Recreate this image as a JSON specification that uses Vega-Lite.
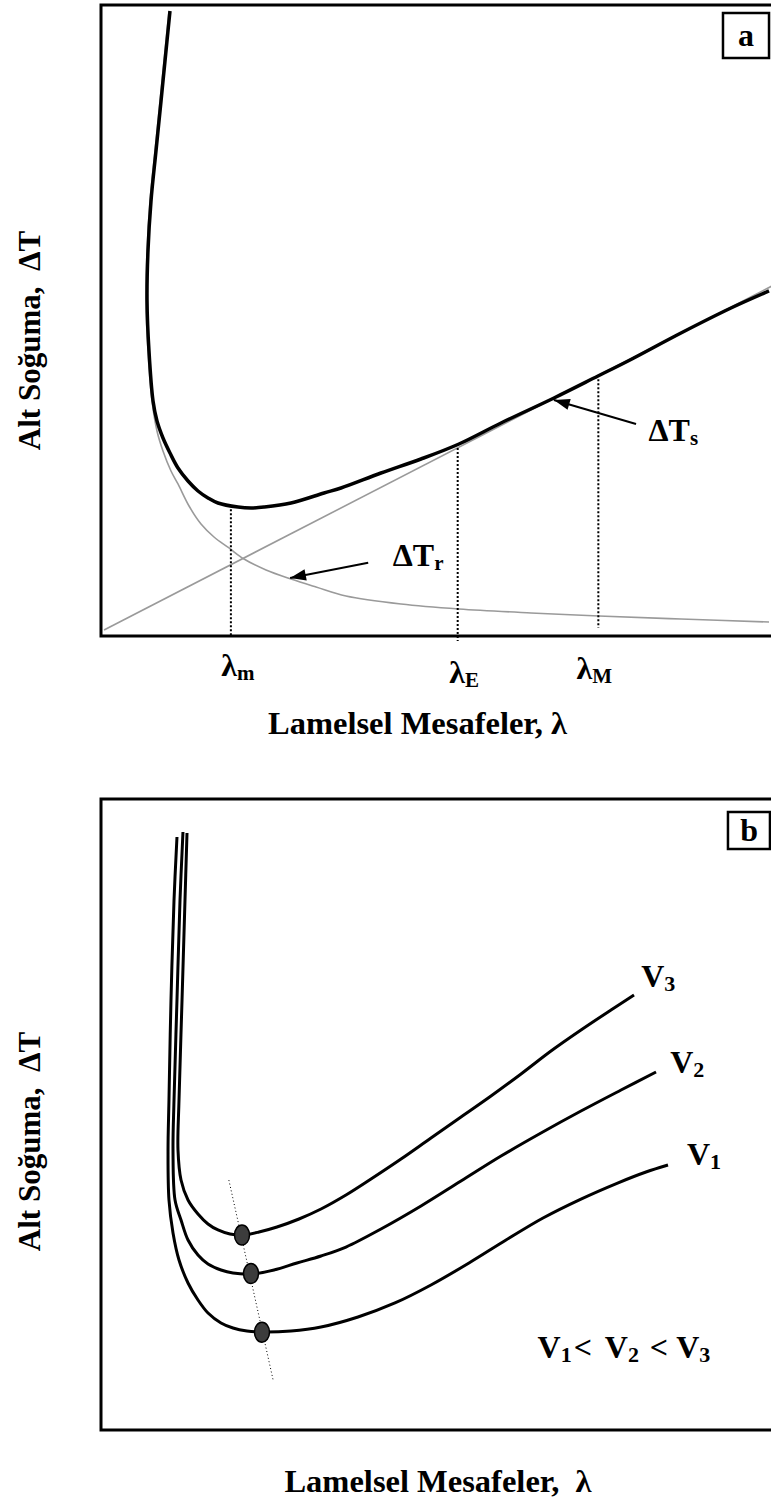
{
  "$schema": "https://vega.github.io/schema/vega-lite/v6.json",
  "background": "white",
  "padding": {"left": 12, "top": 2, "right": 0, "bottom": 5},
  "bounds": "flush",
  "spacing": 163,
  "config": {
    "view": {"stroke": "black", "strokeWidth": 3},
    "text": {"font": "Liberation Serif", "fontWeight": "bold", "color": "black"}
  },
  "datasets": {
    "curvesA": [
      {"curve": "tot", "x": 10.25, "y": 99.05}, {"curve": "tot", "x": 9.51, "y": 91.13}, {"curve": "tot", "x": 8.92, "y": 84.79},
      {"curve": "tot", "x": 8.17, "y": 76.86}, {"curve": "tot", "x": 7.43, "y": 68.94}, {"curve": "tot", "x": 6.98, "y": 61.01},
      {"curve": "tot", "x": 6.84, "y": 53.09}, {"curve": "tot", "x": 7.13, "y": 45.17}, {"curve": "tot", "x": 7.73, "y": 37.24},
      {"curve": "tot", "x": 8.32, "y": 34.07}, {"curve": "tot", "x": 9.21, "y": 31.38}, {"curve": "tot", "x": 10.25, "y": 29.0},
      {"curve": "tot", "x": 11.44, "y": 26.62}, {"curve": "tot", "x": 12.93, "y": 24.56}, {"curve": "tot", "x": 14.41, "y": 22.98},
      {"curve": "tot", "x": 15.9, "y": 21.87}, {"curve": "tot", "x": 17.38, "y": 21.08}, {"curve": "tot", "x": 20.36, "y": 20.44},
      {"curve": "tot", "x": 22.29, "y": 20.29}, {"curve": "tot", "x": 24.22, "y": 20.44}, {"curve": "tot", "x": 28.23, "y": 21.08},
      {"curve": "tot", "x": 33.14, "y": 22.66}, {"curve": "tot", "x": 35.66, "y": 23.45}, {"curve": "tot", "x": 41.6, "y": 25.83},
      {"curve": "tot", "x": 47.55, "y": 28.05}, {"curve": "tot", "x": 53.19, "y": 30.43}, {"curve": "tot", "x": 59.44, "y": 33.76},
      {"curve": "tot", "x": 67.31, "y": 37.72}, {"curve": "tot", "x": 73.85, "y": 41.2}, {"curve": "tot", "x": 78.31, "y": 43.58},
      {"curve": "tot", "x": 86.18, "y": 48.02}, {"curve": "tot", "x": 93.61, "y": 51.98}, {"curve": "tot", "x": 99.26, "y": 54.68},
      {"curve": "r", "x": 10.1, "y": 99.05}, {"curve": "r", "x": 9.36, "y": 91.13}, {"curve": "r", "x": 8.77, "y": 84.79},
      {"curve": "r", "x": 8.02, "y": 76.86}, {"curve": "r", "x": 7.28, "y": 68.94}, {"curve": "r", "x": 6.84, "y": 61.01},
      {"curve": "r", "x": 6.69, "y": 53.09}, {"curve": "r", "x": 6.98, "y": 45.17}, {"curve": "r", "x": 7.58, "y": 37.24},
      {"curve": "r", "x": 8.32, "y": 32.49}, {"curve": "r", "x": 9.21, "y": 29.32}, {"curve": "r", "x": 10.4, "y": 26.15},
      {"curve": "r", "x": 11.44, "y": 24.09}, {"curve": "r", "x": 13.08, "y": 20.6}, {"curve": "r", "x": 14.86, "y": 17.75},
      {"curve": "r", "x": 16.79, "y": 15.69}, {"curve": "r", "x": 19.02, "y": 13.95}, {"curve": "r", "x": 21.25, "y": 12.2},
      {"curve": "r", "x": 24.52, "y": 10.46}, {"curve": "r", "x": 28.23, "y": 9.03}, {"curve": "r", "x": 31.95, "y": 7.77},
      {"curve": "r", "x": 36.4, "y": 6.34}, {"curve": "r", "x": 44.58, "y": 5.07}, {"curve": "r", "x": 53.19, "y": 4.28},
      {"curve": "r", "x": 63.89, "y": 3.65}, {"curve": "r", "x": 73.98, "y": 3.17}, {"curve": "r", "x": 86.18, "y": 2.69},
      {"curve": "r", "x": 99.26, "y": 2.22},
      {"curve": "s", "x": 0.45, "y": 0.95}, {"curve": "s", "x": 100, "y": 55.63}
    ],
    "marksA": [
      {"name": "m", "x": 19.3, "y": 20.1, "y2": 0},
      {"name": "E", "x": 53.0, "y": 29.8, "y2": -0.8},
      {"name": "M", "x": 73.9, "y": 40.7, "y2": 1.3}
    ],
    "arrowsA": [
      {"name": "s", "x": 79.5, "y": 33.6, "x2": 67.3, "y2": 37.4},
      {"name": "r", "x": 39.7, "y": 11.6, "x2": 28.1, "y2": 9.2}
    ],
    "labelsA": [
      {"main": "ΔT", "sub": "s", "x": 87.5, "y": 30.9},
      {"main": "ΔT", "sub": "r", "x": 49.5, "y": 11.1},
      {"main": "λ", "sub": "m", "x": 20.2, "y": -6.3},
      {"main": "λ", "sub": "E", "x": 54.1, "y": -7.4},
      {"main": "λ", "sub": "M", "x": 73.0, "y": -6.8}
    ],
    "boxA": [{"t": "a", "x": 92.42, "x2": 99.26, "y": 98.73, "y2": 91.6, "cx": 95.84, "cy": 95.1}],
    "curvesB": [
      {"curve": "V1", "x": 11.29, "y": 93.98}, {"curve": "V1", "x": 10.85, "y": 84.0}, {"curve": "V1", "x": 10.4, "y": 68.15},
      {"curve": "V1", "x": 10.1, "y": 52.3}, {"curve": "V1", "x": 9.96, "y": 44.37}, {"curve": "V1", "x": 10.1, "y": 36.45},
      {"curve": "V1", "x": 10.7, "y": 31.22}, {"curve": "V1", "x": 11.59, "y": 26.94}, {"curve": "V1", "x": 12.93, "y": 23.3},
      {"curve": "V1", "x": 14.41, "y": 20.6}, {"curve": "V1", "x": 15.9, "y": 18.54}, {"curve": "V1", "x": 17.83, "y": 16.96},
      {"curve": "V1", "x": 19.61, "y": 16.16}, {"curve": "V1", "x": 21.69, "y": 15.69}, {"curve": "V1", "x": 23.92, "y": 15.53},
      {"curve": "V1", "x": 28.23, "y": 15.69}, {"curve": "V1", "x": 32.69, "y": 16.32}, {"curve": "V1", "x": 38.19, "y": 17.91},
      {"curve": "V1", "x": 43.68, "y": 20.13}, {"curve": "V1", "x": 49.03, "y": 22.98}, {"curve": "V1", "x": 54.68, "y": 26.47},
      {"curve": "V1", "x": 60.18, "y": 30.11}, {"curve": "V1", "x": 65.68, "y": 33.6}, {"curve": "V1", "x": 71.32, "y": 36.6},
      {"curve": "V1", "x": 76.67, "y": 39.1}, {"curve": "V1", "x": 80.98, "y": 40.89}, {"curve": "V1", "x": 84.25, "y": 42.0},
      {"curve": "V2", "x": 12.18, "y": 94.77}, {"curve": "V2", "x": 11.74, "y": 83.99}, {"curve": "V2", "x": 11.29, "y": 68.15},
      {"curve": "V2", "x": 10.85, "y": 52.3}, {"curve": "V2", "x": 10.7, "y": 44.37}, {"curve": "V2", "x": 11.0, "y": 36.45},
      {"curve": "V2", "x": 11.89, "y": 33.28}, {"curve": "V2", "x": 12.93, "y": 30.11}, {"curve": "V2", "x": 14.41, "y": 27.73},
      {"curve": "V2", "x": 15.9, "y": 26.31}, {"curve": "V2", "x": 17.83, "y": 25.36}, {"curve": "V2", "x": 19.61, "y": 24.88},
      {"curve": "V2", "x": 22.29, "y": 24.72}, {"curve": "V2", "x": 25.71, "y": 25.36}, {"curve": "V2", "x": 29.12, "y": 26.47},
      {"curve": "V2", "x": 32.69, "y": 27.58}, {"curve": "V2", "x": 36.4, "y": 29.0}, {"curve": "V2", "x": 41.6, "y": 31.85},
      {"curve": "V2", "x": 47.55, "y": 35.5}, {"curve": "V2", "x": 53.49, "y": 39.46}, {"curve": "V2", "x": 59.44, "y": 43.42},
      {"curve": "V2", "x": 65.38, "y": 47.07}, {"curve": "V2", "x": 71.32, "y": 50.55}, {"curve": "V2", "x": 77.27, "y": 53.88},
      {"curve": "V2", "x": 82.47, "y": 56.74},
      {"curve": "V3", "x": 12.78, "y": 94.61}, {"curve": "V3", "x": 12.48, "y": 83.99}, {"curve": "V3", "x": 12.04, "y": 68.15},
      {"curve": "V3", "x": 11.59, "y": 52.3}, {"curve": "V3", "x": 11.44, "y": 44.37}, {"curve": "V3", "x": 11.89, "y": 39.62},
      {"curve": "V3", "x": 12.93, "y": 36.45}, {"curve": "V3", "x": 14.41, "y": 34.23}, {"curve": "V3", "x": 15.9, "y": 32.65},
      {"curve": "V3", "x": 17.38, "y": 31.7}, {"curve": "V3", "x": 19.17, "y": 31.06}, {"curve": "V3", "x": 20.95, "y": 30.9},
      {"curve": "V3", "x": 23.48, "y": 31.38}, {"curve": "V3", "x": 26.15, "y": 32.17}, {"curve": "V3", "x": 29.42, "y": 33.44},
      {"curve": "V3", "x": 32.69, "y": 35.02}, {"curve": "V3", "x": 36.4, "y": 37.24}, {"curve": "V3", "x": 40.12, "y": 39.78},
      {"curve": "V3", "x": 44.58, "y": 42.95}, {"curve": "V3", "x": 49.03, "y": 46.28}, {"curve": "V3", "x": 53.49, "y": 49.6},
      {"curve": "V3", "x": 57.95, "y": 52.93}, {"curve": "V3", "x": 62.41, "y": 56.42}, {"curve": "V3", "x": 66.86, "y": 60.06},
      {"curve": "V3", "x": 71.32, "y": 63.39}, {"curve": "V3", "x": 75.78, "y": 66.56}, {"curve": "V3", "x": 79.2, "y": 68.94}
    ],
    "guideB": [{"x": 19.0, "y": 39.6}, {"x": 25.6, "y": 7.8}],
    "minsB": [
      {"curve": "V3", "x": 20.95, "y": 30.9},
      {"curve": "V2", "x": 22.29, "y": 24.8},
      {"curve": "V1", "x": 23.92, "y": 15.5}
    ],
    "labelsB": [
      {"main": "V", "sub": "3", "x": 83.7, "y": 70.2},
      {"main": "V", "sub": "2", "x": 88.0, "y": 56.6},
      {"main": "V", "sub": "1", "x": 90.5, "y": 42.0},
      {"main": "V", "sub": "1", "x": 68.3, "y": 11.4},
      {"main": "<", "sub": "", "x": 72.96, "y": 11.4},
      {"main": "V", "sub": "2", "x": 78.3, "y": 11.4},
      {"main": "<", "sub": "", "x": 84.25, "y": 11.4},
      {"main": "V", "sub": "3", "x": 88.9, "y": 11.4}
    ],
    "boxB": [{"t": "b", "x": 93.16, "x2": 99.4, "y": 97.94, "y2": 92.08, "cx": 96.3, "cy": 95.0}]
  },
  "vconcat": [
    {
      "width": 673,
      "height": 631,
      "encoding": {
        "x": {"field": "x", "type": "quantitative", "scale": {"domain": [0, 100], "nice": false, "zero": false},
          "axis": {"title": "Lamelsel Mesafeler, λ", "domain": false, "ticks": false, "labels": false, "grid": false,
            "titleFont": "Liberation Serif", "titleFontSize": 32.5, "titleFontWeight": "bold", "titleColor": "black",
            "titlePadding": 71, "titleX": 316}},
        "y": {"field": "y", "type": "quantitative", "scale": {"domain": [0, 100], "nice": false, "zero": false},
          "axis": {"title": "Alt Soğuma,\u00a0 ΔT", "domain": false, "ticks": false, "labels": false, "grid": false,
            "titleFont": "Liberation Serif", "titleFontSize": 31, "titleFontWeight": "bold", "titleColor": "black",
            "titlePadding": 55, "titleY": 335}}
      },
      "layer": [
        {"data": {"name": "curvesA"}, "transform": [{"filter": "datum.curve != 'tot'"}],
          "mark": {"type": "line", "color": "#9a9a9a", "strokeWidth": 1.6, "interpolate": "catmull-rom"},
          "encoding": {"detail": {"field": "curve"}, "order": {"value": null}}},
        {"data": {"name": "marksA"},
          "mark": {"type": "rule", "color": "black", "strokeWidth": 2, "strokeDash": [2, 2]},
          "encoding": {"y2": {"field": "y2"}}},
        {"data": {"name": "curvesA"}, "transform": [{"filter": "datum.curve == 'tot'"}],
          "mark": {"type": "line", "color": "black", "strokeWidth": 3.5, "interpolate": "catmull-rom"},
          "encoding": {"order": {"value": null}}},
        {"data": {"name": "arrowsA"},
          "mark": {"type": "rule", "color": "black", "strokeWidth": 2},
          "encoding": {"x2": {"field": "x2"}, "y2": {"field": "y2"}}},
        {"data": {"name": "arrowsA"}, "transform": [{"filter": "datum.name == 's'"}],
          "mark": {"type": "point", "shape": "M0,0L-0.36,1L0.36,1Z", "filled": true, "color": "black", "size": 1000, "angle": 286, "opacity": 1},
          "encoding": {"x": {"field": "x2", "type": "quantitative"}, "y": {"field": "y2", "type": "quantitative"}}},
        {"data": {"name": "arrowsA"}, "transform": [{"filter": "datum.name == 'r'"}],
          "mark": {"type": "point", "shape": "M0,0L-0.36,1L0.36,1Z", "filled": true, "color": "black", "size": 1000, "angle": 259, "opacity": 1},
          "encoding": {"x": {"field": "x2", "type": "quantitative"}, "y": {"field": "y2", "type": "quantitative"}}},
        {"data": {"name": "labelsA"},
          "mark": {"type": "text", "align": "right", "baseline": "alphabetic", "fontSize": 32},
          "encoding": {"text": {"field": "main"}}},
        {"data": {"name": "labelsA"},
          "mark": {"type": "text", "align": "left", "baseline": "alphabetic", "fontSize": 21, "dy": 4},
          "encoding": {"text": {"field": "sub"}}},
        {"data": {"name": "boxA"},
          "mark": {"type": "rect", "fill": "white", "stroke": "black", "strokeWidth": 2.5},
          "encoding": {"x2": {"field": "x2"}, "y2": {"field": "y2"}}},
        {"data": {"name": "boxA"},
          "mark": {"type": "text", "align": "center", "baseline": "middle", "fontSize": 32},
          "encoding": {"x": {"field": "cx", "type": "quantitative"}, "y": {"field": "cy", "type": "quantitative"}, "text": {"field": "t"}}}
      ]
    },
    {
      "width": 673,
      "height": 631,
      "encoding": {
        "x": {"field": "x", "type": "quantitative", "scale": {"domain": [0, 100], "nice": false, "zero": false},
          "axis": {"title": "Lamelsel Mesafeler,\u00a0 λ", "domain": false, "ticks": false, "labels": false, "grid": false,
            "titleFont": "Liberation Serif", "titleFontSize": 32.5, "titleFontWeight": "bold", "titleColor": "black",
            "titlePadding": 35}},
        "y": {"field": "y", "type": "quantitative", "scale": {"domain": [0, 100], "nice": false, "zero": false},
          "axis": {"title": "Alt Soğuma,\u00a0 ΔT", "domain": false, "ticks": false, "labels": false, "grid": false,
            "titleFont": "Liberation Serif", "titleFontSize": 31, "titleFontWeight": "bold", "titleColor": "black",
            "titlePadding": 55, "titleY": 342}}
      },
      "layer": [
        {"data": {"name": "guideB"},
          "mark": {"type": "line", "color": "black", "strokeWidth": 1, "strokeDash": [1, 2.5]},
          "encoding": {"order": {"value": null}}},
        {"data": {"name": "curvesB"},
          "mark": {"type": "line", "color": "black", "strokeWidth": 3, "interpolate": "catmull-rom"},
          "encoding": {"detail": {"field": "curve"}, "order": {"value": null}}},
        {"data": {"name": "minsB"},
          "mark": {"type": "point", "shape": "M-0.75,0A0.75,1,0,1,0,0.75,0A0.75,1,0,1,0,-0.75,0Z", "filled": true, "fill": "#3c3c3c", "stroke": "black", "strokeWidth": 1.5, "size": 400, "opacity": 1},
          "encoding": {}},
        {"data": {"name": "labelsB"},
          "mark": {"type": "text", "align": "right", "baseline": "alphabetic", "fontSize": 32},
          "encoding": {"text": {"field": "main"}}},
        {"data": {"name": "labelsB"},
          "mark": {"type": "text", "align": "left", "baseline": "alphabetic", "fontSize": 22, "dy": 4},
          "encoding": {"text": {"field": "sub"}}},
        {"data": {"name": "boxB"},
          "mark": {"type": "rect", "fill": "white", "stroke": "black", "strokeWidth": 2.5},
          "encoding": {"x2": {"field": "x2"}, "y2": {"field": "y2"}}},
        {"data": {"name": "boxB"},
          "mark": {"type": "text", "align": "center", "baseline": "middle", "fontSize": 32},
          "encoding": {"x": {"field": "cx", "type": "quantitative"}, "y": {"field": "cy", "type": "quantitative"}, "text": {"field": "t"}}}
      ]
    }
  ]
}
